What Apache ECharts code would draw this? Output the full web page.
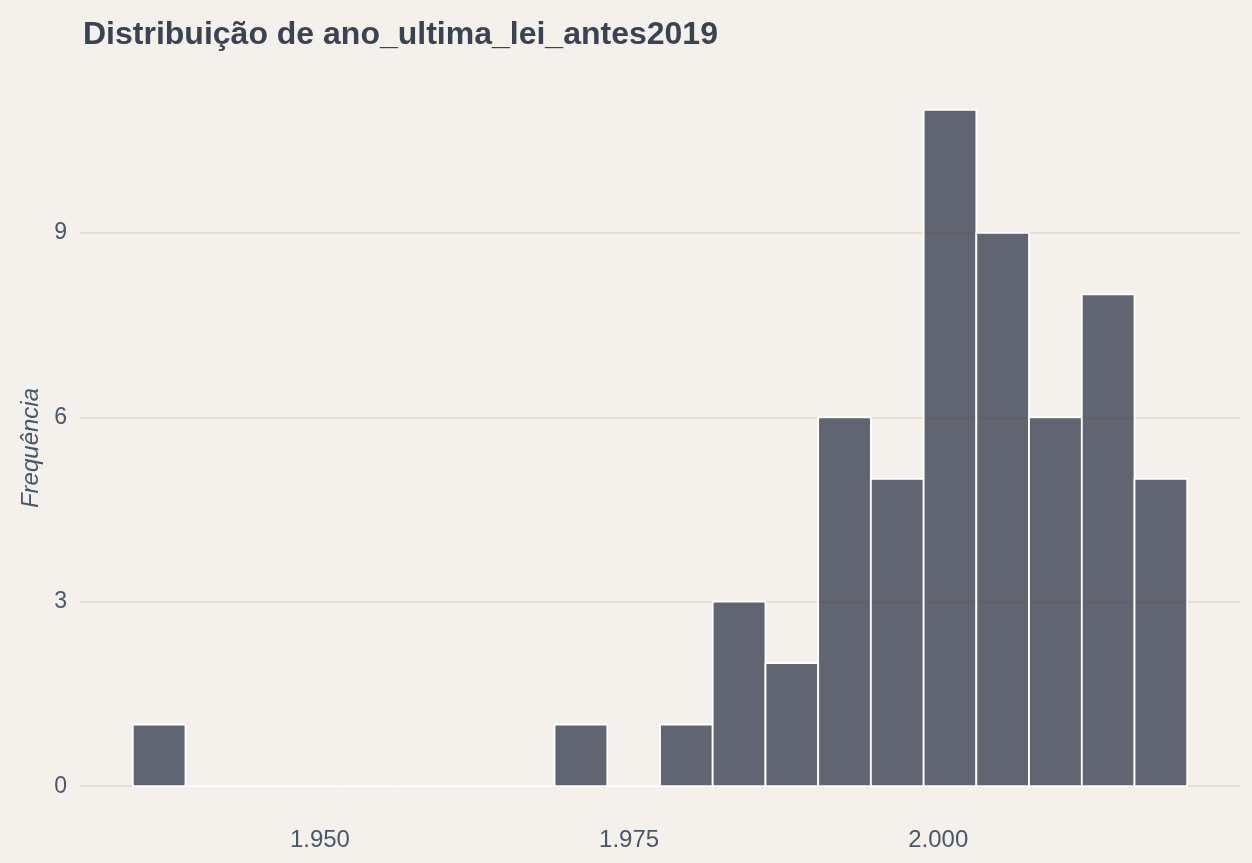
<!DOCTYPE html>
<html>
<head>
<meta charset="utf-8">
<title>Distribuição de ano_ultima_lei_antes2019</title>
<script src="https://cdn.jsdelivr.net/npm/echarts@6/dist/echarts.min.js"></script>
<style>
    html, body { margin: 0; padding: 0; background: #f4f1ec; }
    #chart { width: 1252px; height: 863px; }
</style>
</head>
<body>
<div id="chart"></div>
<script>
// histogram bins (bin edges) and counts
const binStart = [1934.87, 1939.13, 1943.39, 1947.66, 1951.92, 1956.18, 1960.45, 1964.71, 1968.97, 1973.24,
                  1977.50, 1981.76, 1986.03, 1990.29, 1994.55, 1998.82, 2003.08, 2007.34, 2011.61, 2015.87];
const binEnd   = [1939.13, 1943.39, 1947.66, 1951.92, 1956.18, 1960.45, 1964.71, 1968.97, 1973.24, 1977.50,
                  1981.76, 1986.03, 1990.29, 1994.55, 1998.82, 2003.08, 2007.34, 2011.61, 2015.87, 2020.13];
const counts   = [1, 0, 0, 0, 0, 0, 0, 0, 1, 0, 1, 3, 2, 6, 5, 11, 9, 6, 8, 5];

const xTicks = [1950, 1975, 2000];
const yTicks = [0, 3, 6, 9];

const textColor = '#4c566a';
const font = '"Liberation Sans", Arial, sans-serif';

const chart = echarts.init(document.getElementById('chart'));

const data = counts.map((c, i) => [binStart[i], binEnd[i], c]);

chart.setOption({
    backgroundColor: '#f4f1ec',
    animation: false,
    title: {
        text: 'Distribuição de ano_ultima_lei_antes2019',
        left: 78,
        top: 14,
        textStyle: { fontFamily: font, fontSize: 32, fontWeight: 'bold', color: '#3b4252' }
    },
    grid: { left: 80, right: 12, top: 76, bottom: 43, containLabel: false },
    xAxis: {
        type: 'value',
        min: 1930.6,
        max: 2024.4,
        axisLine: { show: false },
        axisTick: { show: false, customValues: xTicks },
        splitLine: { show: false },
        axisLabel: {
            customValues: xTicks,
            margin: 8,
            fontFamily: font,
            fontSize: 24,
            color: textColor,
            formatter: v => v.toLocaleString('pt-BR')
        }
    },
    yAxis: {
        type: 'value',
        min: -0.55,
        max: 11.55,
        name: 'Frequência',
        nameLocation: 'middle',
        nameGap: 37,
        nameTextStyle: { fontFamily: font, fontSize: 24, fontStyle: 'italic', color: textColor },
        axisLine: { show: false },
        axisTick: { show: false, customValues: yTicks },
        splitLine: { show: true, lineStyle: { color: '#e8ddd2', width: 2 } },
        axisLabel: {
            customValues: yTicks,
            margin: 13,
            fontFamily: font,
            fontSize: 23,
            color: textColor
        }
    },
    series: [{
        type: 'custom',
        data: data,
        encode: { x: [0, 1], y: 2 },
        renderItem: (params, api) => {
            const p0 = api.coord([api.value(0), 0]);
            const p1 = api.coord([api.value(1), api.value(2)]);
            return {
                type: 'rect',
                shape: { x: p0[0], y: p1[1], width: p1[0] - p0[0], height: p0[1] - p1[1] },
                style: { fill: 'rgba(59,66,82,0.8)', stroke: '#ffffff', lineWidth: 1.8 }
            };
        }
    }]
});
</script>
</body>
</html>
